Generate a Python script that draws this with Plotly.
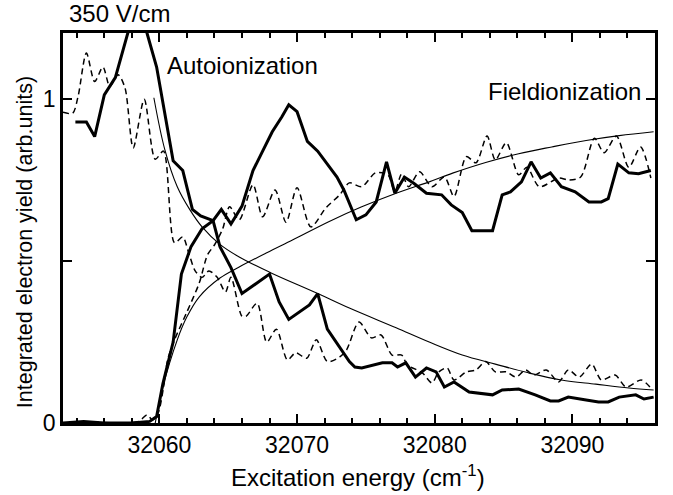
import plotly.graph_objects as go

# ---- data ----
ai_solid_x = [32053.9, 32054.7, 32055.3, 32056.0, 32056.8, 32057.7, 32058.4, 32059.1, 32059.8,
              32061.0, 32061.7, 32062.4, 32063.0, 32063.9, 32064.4, 32065.2, 32066.0, 32068.0,
              32068.7, 32069.4, 32070.9, 32071.5, 32072.2, 32073.8, 32074.2, 32074.7, 32076.2,
              32076.9, 32077.3, 32077.9, 32078.6, 32079.4, 32080.1, 32080.7, 32081.4, 32082.5,
              32084.2, 32084.9, 32086.1, 32087.3, 32088.4, 32089.0, 32089.7, 32091.0, 32091.9,
              32092.6, 32093.4, 32094.6, 32095.2, 32095.9]
ai_solid_y = [0.93, 0.93, 0.885, 1.014, 1.067, 1.205, 1.31, 1.205, 1.10,
              0.81, 0.78, 0.66, 0.64, 0.625, 0.545, 0.48, 0.40, 0.46,
              0.374, 0.32, 0.365, 0.40, 0.29, 0.19, 0.173, 0.17, 0.186,
              0.186, 0.173, 0.186, 0.142, 0.17, 0.158, 0.111, 0.127, 0.096,
              0.087, 0.102, 0.105, 0.087, 0.068, 0.068, 0.08, 0.071, 0.065,
              0.065, 0.08, 0.087, 0.074, 0.08]

fi_solid_x = [32053.0, 32054.5, 32056.0, 32058.0, 32059.3, 32059.8, 32060.25, 32061.0, 32061.6,
              32062.3, 32063.1, 32063.9, 32064.5, 32065.2, 32066.0, 32066.8, 32067.5, 32068.2,
              32068.9, 32069.4, 32070.0, 32070.75, 32071.5, 32072.2, 32072.9, 32073.4, 32074.3,
              32075.0, 32075.75, 32076.5, 32077.1, 32077.8, 32078.5, 32079.4, 32080.5, 32081.2,
              32082.0, 32082.7, 32084.2, 32084.9, 32085.5, 32086.3, 32087.0, 32087.7, 32088.4,
              32089.2, 32090.2, 32091.2, 32092.1, 32092.6, 32093.3, 32094.1, 32094.8, 32095.7]
fi_solid_y = [0.0, 0.005, 0.0, 0.0, 0.005, 0.02, 0.12, 0.25, 0.46,
              0.545, 0.60, 0.625, 0.66, 0.615, 0.67, 0.78, 0.84, 0.90,
              0.946, 0.983, 0.962, 0.87, 0.84, 0.80, 0.76, 0.72, 0.628,
              0.643, 0.683, 0.807, 0.71, 0.76, 0.74, 0.71, 0.705, 0.674,
              0.65, 0.594, 0.594, 0.705, 0.714, 0.745, 0.807, 0.757, 0.773,
              0.73, 0.714, 0.683, 0.683, 0.693, 0.80, 0.773, 0.77, 0.78]

ai_dash_x = [32053.0, 32053.7, 32054.1, 32054.7, 32055.3, 32055.9, 32056.4, 32057.0, 32057.5,
             32058.1, 32058.9, 32059.7, 32060.3, 32061.1, 32061.7, 32062.1, 32062.6, 32063.1,
             32063.6, 32064.2, 32064.8, 32065.2, 32066.0, 32066.3, 32067.1, 32067.8, 32068.5,
             32069.3, 32069.9, 32070.7, 32071.4, 32072.2, 32073.1, 32073.6, 32074.5, 32075.4,
             32076.1, 32076.9, 32077.6, 32078.0, 32079.1, 32079.8, 32080.3, 32080.9, 32081.4,
             32082.3, 32083.0, 32083.7, 32084.4, 32085.2, 32085.9, 32086.6, 32087.2, 32088.1,
             32089.0, 32089.7, 32090.5, 32091.4, 32092.1, 32093.1, 32093.9, 32095.0, 32095.7]
ai_dash_y = [0.96, 0.957, 1.01, 1.143, 1.055, 1.10, 1.04, 1.076, 1.036,
             0.85, 1.00, 0.815, 0.84, 0.557, 0.575, 0.53, 0.47, 0.45,
             0.47, 0.45, 0.405, 0.45, 0.33, 0.33, 0.37, 0.25, 0.29,
             0.195, 0.217, 0.20, 0.257, 0.19, 0.204, 0.226, 0.312, 0.263,
             0.272, 0.21, 0.21, 0.18, 0.155, 0.124, 0.158, 0.17, 0.133,
             0.158, 0.164, 0.19, 0.158, 0.158, 0.142, 0.164, 0.148, 0.164,
             0.127, 0.164, 0.142, 0.182, 0.133, 0.148, 0.111, 0.133, 0.108]

fi_dash_x = [32053.0, 32055.0, 32057.0, 32058.5, 32059.1, 32059.5, 32059.9, 32060.3, 32060.6,
             32061.1, 32062.0, 32062.9, 32063.5, 32064.0, 32064.6, 32065.1, 32065.8, 32066.8,
             32067.5, 32068.4, 32069.2, 32070.0, 32071.0, 32072.1, 32073.1, 32073.8, 32074.7,
             32075.7, 32076.6, 32077.1, 32077.6, 32078.1, 32078.9, 32079.8, 32080.7, 32081.4,
             32082.3, 32083.0, 32083.8, 32084.4, 32085.2, 32086.1, 32086.7, 32087.6, 32089.0,
             32089.7, 32090.6, 32091.6, 32092.3, 32093.2, 32094.1, 32094.95, 32095.7]
fi_dash_y = [0.0, 0.003, 0.0, 0.005, 0.025, 0.01, 0.03, 0.11, 0.195,
             0.257, 0.343, 0.433, 0.52, 0.55, 0.60, 0.668, 0.628, 0.736,
             0.637, 0.72, 0.62, 0.727, 0.606, 0.665, 0.705, 0.742, 0.73,
             0.773, 0.767, 0.715, 0.77, 0.73, 0.776, 0.73, 0.76, 0.70,
             0.823, 0.804, 0.887, 0.813, 0.866, 0.767, 0.79, 0.73, 0.757,
             0.751, 0.76, 0.88, 0.835, 0.887, 0.79, 0.853, 0.757]

ai_fit_x = [32059.6, 32060.4, 32061.3, 32062.2, 32063.1, 32064.4, 32065.8, 32068.0, 32071.5,
            32073.8, 32077.2, 32079.6, 32082.0, 32084.4, 32086.8, 32089.2, 32091.7, 32094.1, 32095.9]
ai_fit_y = [1.005, 0.844, 0.73, 0.66, 0.606, 0.552, 0.513, 0.466, 0.40,
            0.355, 0.294, 0.25, 0.21, 0.182, 0.155, 0.133, 0.12, 0.108, 0.102]

fi_fit_x = [32059.7, 32060.25, 32061.3, 32062.0, 32062.9, 32064.4, 32065.8, 32067.8, 32069.7,
            32072.3, 32074.7, 32077.2, 32079.6, 32081.3, 32083.7, 32086.1, 32088.5, 32091.0,
            32093.4, 32095.9]
fi_fit_y = [0.0, 0.11, 0.257, 0.328, 0.39, 0.448, 0.482, 0.526, 0.566,
            0.622, 0.668, 0.71, 0.745, 0.772, 0.805, 0.832, 0.853, 0.873,
            0.888, 0.90]

y_tick_vals = [0, 0.5, 1]
y_tick_text = ["0", " ", "1"]
x_tick_vals = [32060, 32070, 32080, 32090]
x_tick_text = ["32060", "32070", "32080", "32090"]

FONT = "Liberation Sans, Arial, Helvetica, sans-serif"
BLACK = "black"

fig = go.Figure()
fig.add_trace(go.Scatter(x=ai_fit_x, y=ai_fit_y, mode="lines", line_shape="spline",
                         line=dict(color=BLACK, width=1.1)))
fig.add_trace(go.Scatter(x=fi_fit_x, y=fi_fit_y, mode="lines", line_shape="spline",
                         line=dict(color=BLACK, width=1.1)))
fig.add_trace(go.Scatter(x=ai_dash_x, y=ai_dash_y, mode="lines", line_shape="spline",
                         line=dict(color=BLACK, width=1.5, dash="6px,4px", smoothing=0.8)))
fig.add_trace(go.Scatter(x=fi_dash_x, y=fi_dash_y, mode="lines", line_shape="spline",
                         line=dict(color=BLACK, width=1.5, dash="6px,4px", smoothing=0.8)))
fig.add_trace(go.Scatter(x=ai_solid_x, y=ai_solid_y, mode="lines",
                         line=dict(color=BLACK, width=3)))
fig.add_trace(go.Scatter(x=fi_solid_x, y=fi_solid_y, mode="lines",
                         line=dict(color=BLACK, width=3)))
# empty trace on the top axis so its ticks are drawn
fig.add_trace(go.Scatter(x=[32053, 32096], y=[None, None], xaxis="x2", mode="lines",
                         showlegend=False, hoverinfo="skip"))

axis_common = dict(ticks="inside", tickwidth=1.5, tickcolor=BLACK, showline=True,
                   linecolor=BLACK, linewidth=2.5, showgrid=False, zeroline=False)

fig.update_layout(
    width=673, height=495,
    margin=dict(l=63, r=18, t=33, b=72),
    paper_bgcolor="white", plot_bgcolor="white",
    showlegend=False,
    font=dict(family=FONT, size=24, color=BLACK),
    xaxis=dict(range=[32053, 32096], tickvals=x_tick_vals, ticktext=x_tick_text,
               ticklen=9, mirror=True, tickfont=dict(size=23),
               minor=dict(dtick=2, ticks="inside", ticklen=5, tickwidth=1.5,
                          tickcolor=BLACK, showgrid=False),
               **axis_common),
    xaxis2=dict(range=[32053, 32096], overlaying="x", side="top", tickvals=x_tick_vals,
                showticklabels=False, ticklen=9,
                minor=dict(dtick=2, ticks="inside", ticklen=5, tickwidth=1.5,
                           tickcolor=BLACK, showgrid=False),
                **axis_common),
    yaxis=dict(range=[0, 1.205], tickvals=y_tick_vals, ticktext=y_tick_text,
               ticklen=9, mirror="ticks", tickfont=dict(size=23), **axis_common),
    annotations=[
        dict(text="350 V/cm", xref="paper", yref="paper", x=0.007, y=1.05,
             xanchor="left", yanchor="middle", showarrow=False, font=dict(size=24)),
        dict(text="Autoionization", xref="paper", yref="paper", x=0.172, y=0.917,
             xanchor="left", yanchor="middle", showarrow=False, font=dict(size=24)),
        dict(text="Fieldionization", xref="paper", yref="paper", x=0.98, y=0.85,
             xanchor="right", yanchor="middle", showarrow=False, font=dict(size=24)),
        dict(text="Excitation energy (cm<sup>-1</sup>)", xref="paper", yref="paper",
             x=0.498, y=-0.136, xanchor="center", yanchor="middle", showarrow=False,
             font=dict(size=24)),
        dict(text="Integrated electron yield (arb.units)", xref="paper", yref="paper",
             x=-0.064, y=0.464, xanchor="center", yanchor="middle", textangle=-90,
             showarrow=False, font=dict(size=21.5)),
    ],
)

fig.write_html("out.html", config={"displayModeBar": False},
               post_script="document.body.style.margin='0px';")
